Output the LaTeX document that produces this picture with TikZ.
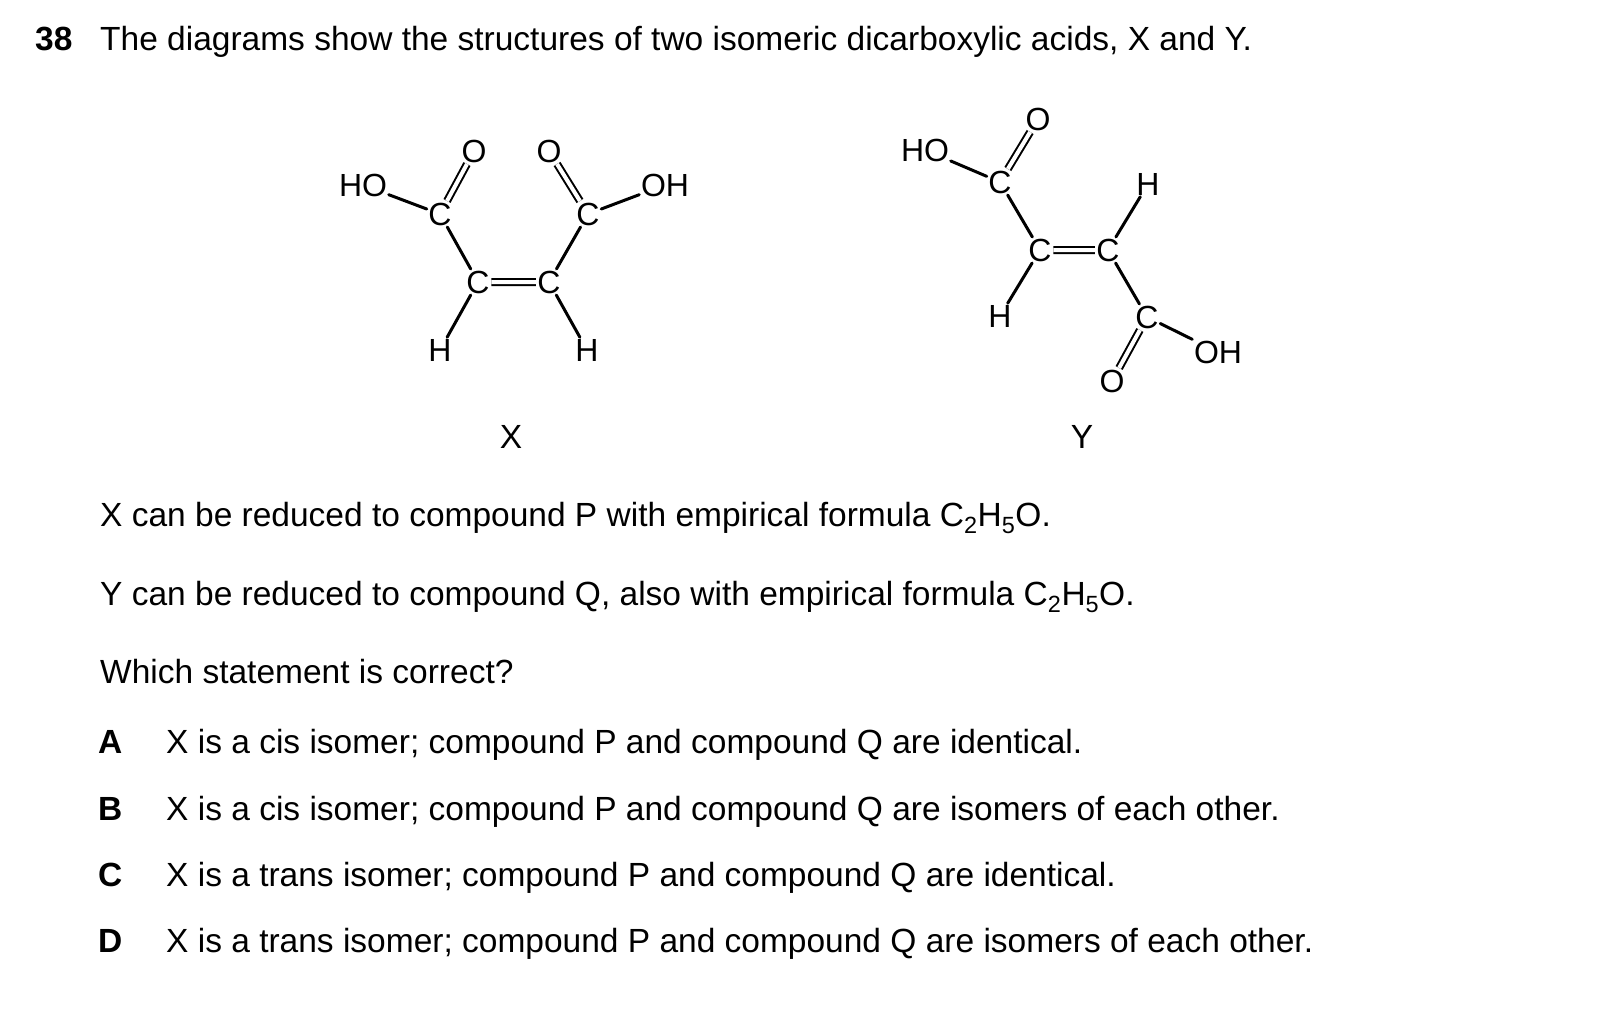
\documentclass[tikz,border=0pt]{standalone}
\usepackage{fontspec}
\setmainfont{Liberation Sans}
\begin{document}
\begin{tikzpicture}[x=1pt,y=-1pt,
  txt/.style={anchor=base west,inner sep=0pt,font=\fontsize{33.5}{38}\selectfont},
  atom/.style={inner sep=1.5pt,font=\fontsize{32}{36}\selectfont},
  bond/.style={line width=3pt,line cap=round},
  dbl/.style={line width=2pt,double,double distance=4pt}]
\useasboundingbox (0,0) rectangle (1611,1027);
\node[txt,font=\fontsize{33.5}{38}\selectfont\bfseries] (num) at (35,51) {38};
\node[txt] (q) at (100,51) {The diagrams show the structures of two isomeric dicarboxylic acids, X and Y.};
% X
\node[atom] (xho) at (363,185) {HO};
\node[atom] (xo1) at (474,151) {O};
\node[atom] (xo2) at (549,151) {O};
\node[atom] (xoh) at (665,185) {OH};
\node[atom] (xc1) at (440,214) {C};
\node[atom] (xc2) at (588,214) {C};
\node[atom] (xc3) at (478,282) {C};
\node[atom] (xc4) at (549,282) {C};
\node[atom] (xh1) at (440,350) {H};
\node[atom] (xh2) at (587,350) {H};
\draw[bond] (xho)--(xc1) (xc1)--(xc3) (xc4)--(xc2) (xc2)--(xoh) (xc3)--(xh1) (xc4)--(xh2);
\draw[dbl] (xc1)--(xo1) (xc2)--(xo2) (xc3)--(xc4);
\node[txt,anchor=base] (xl) at (511,448) {X};
% Y
\node[atom] (yho) at (925,150) {HO};
\node[atom] (yo1) at (1038,119) {O};
\node[atom] (yc1) at (1000,182) {C};
\node[atom] (yh1) at (1148,184) {H};
\node[atom] (yc2) at (1040,250) {C};
\node[atom] (yc3) at (1108,250) {C};
\node[atom] (yh2) at (1000,316) {H};
\node[atom] (yc4) at (1147,317) {C};
\node[atom] (yoh) at (1218,352) {OH};
\node[atom] (yo2) at (1112,381) {O};
\draw[bond] (yho)--(yc1) (yc1)--(yc2) (yc3)--(yh1) (yc2)--(yh2) (yc3)--(yc4) (yc4)--(yoh);
\draw[dbl] (yc1)--(yo1) (yc4)--(yo2) (yc2)--(yc3);
\node[txt,anchor=base] (yl) at (1082,448) {Y};
% text
\node[txt] (l1) at (100,526) {X can be reduced to compound P with empirical formula C\textsubscript{2}H\textsubscript{5}O.};
\node[txt] (l2) at (100,605) {Y can be reduced to compound Q, also with empirical formula C\textsubscript{2}H\textsubscript{5}O.};
\node[txt] (l3) at (100,683) {Which statement is correct?};
\foreach \L/\y/\t in {A/753/{X is a cis isomer; compound P and compound Q are identical.},
  B/820/{X is a cis isomer; compound P and compound Q are isomers of each other.},
  C/886/{X is a trans isomer; compound P and compound Q are identical.},
  D/952/{X is a trans isomer; compound P and compound Q are isomers of each other.}}{
  \node[txt,font=\fontsize{33.5}{38}\selectfont\bfseries] (o\L) at (98,\y) {\L};
  \node[txt] (t\L) at (166,\y) {\t};
}
\end{tikzpicture}
\end{document}
